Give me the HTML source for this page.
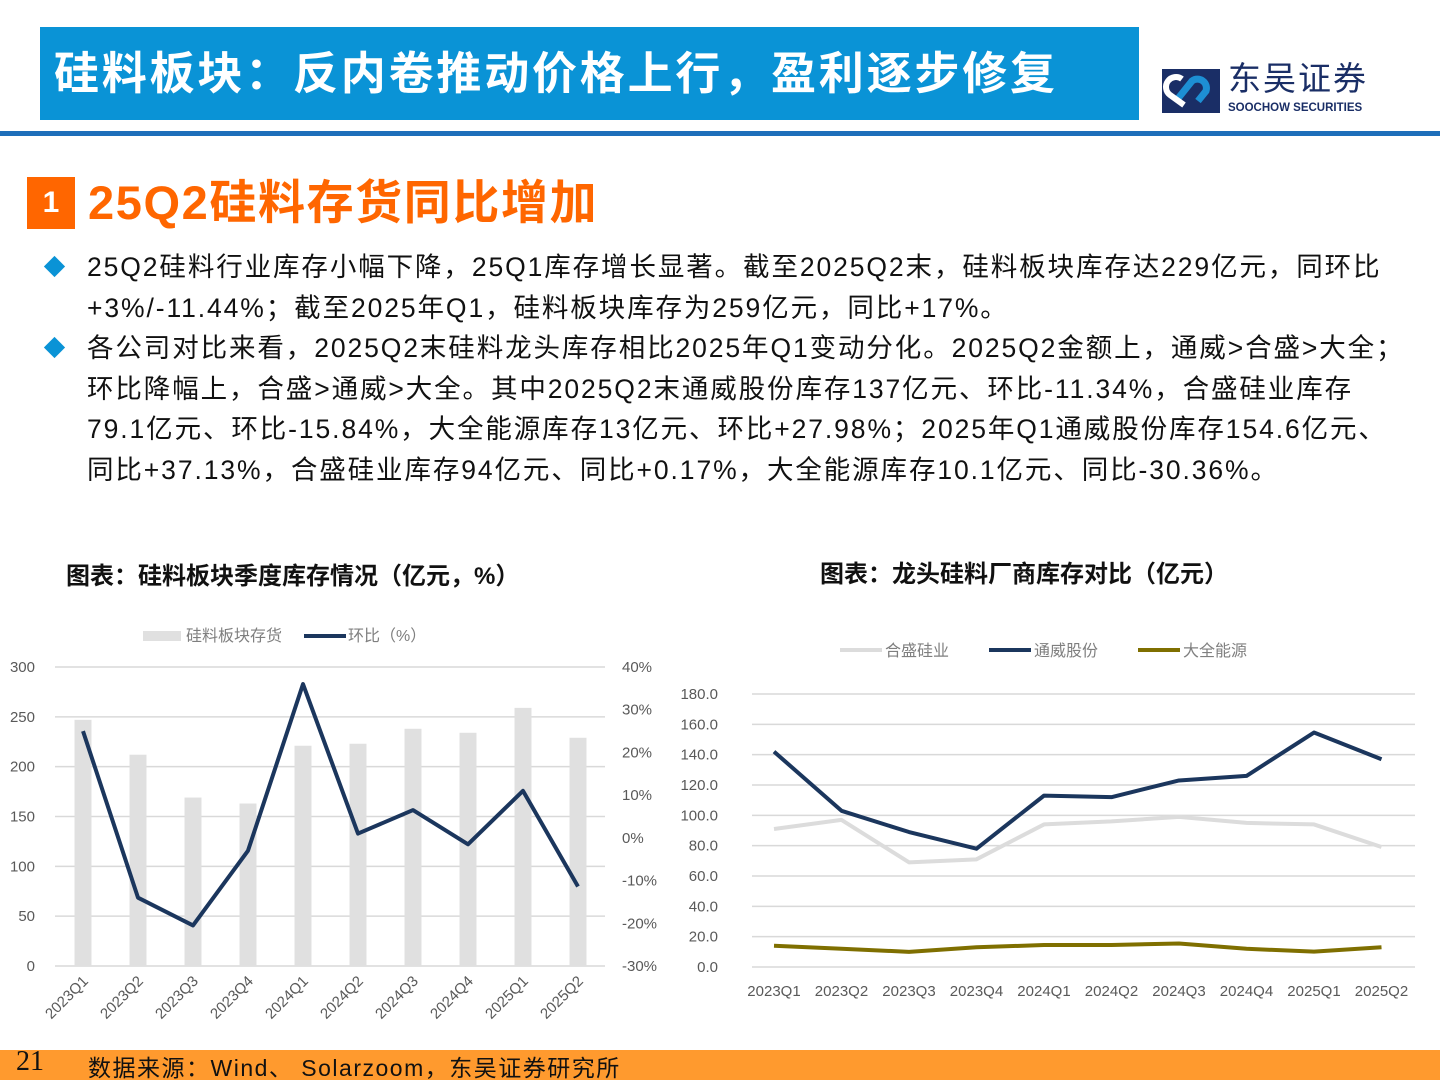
<!DOCTYPE html>
<html><head><meta charset="utf-8">
<style>
body{margin:0;width:1440px;height:1080px;position:relative;background:#fff;font-family:"Liberation Sans","Noto Sans CJK SC",sans-serif;overflow:hidden}
.abs{position:absolute}
.banner{left:40px;top:27px;width:1099px;height:93px;background:#0a93d6;color:#fff;font-size:45px;font-weight:bold;line-height:93px;padding-left:14px;box-sizing:border-box;letter-spacing:2.8px;white-space:nowrap}
.rule{left:0;top:131px;width:1440px;height:5px;background:#1e6fba}
.sq{left:27px;top:177px;width:48px;height:52px;background:#ff6600;color:#fff;font-size:30px;font-weight:bold;text-align:center;line-height:52px}
.title{left:88px;top:170px;font-size:47px;font-weight:bold;color:#ff6600;line-height:66px;letter-spacing:1.6px;white-space:nowrap}
.bul{left:87px;font-size:26.5px;color:#111;line-height:40.5px;white-space:nowrap;letter-spacing:1.9px}
.dia{width:15px;height:15px;background:#0a93d6;transform:rotate(45deg)}
.ct{font-size:24px;font-weight:bold;color:#111}
.foot{left:0;top:1050px;width:1440px;height:30px;background:#ff9a2e}
</style></head><body>
<div class="abs banner">硅料板块：反内卷推动价格上行，盈利逐步修复</div>
<div class="abs" style="left:1162px;top:69px">
<svg width="58" height="44" viewBox="0 0 58 44"><rect x="0" y="0" width="58" height="44" fill="#1a2e66"/><path d="M14 32 L30 12 A9 9 0 0 1 44 22 L36 32" stroke="#1d8fd4" stroke-width="7" fill="none"/><path d="M22 36 L8 26 A8 8 0 0 1 20 10" stroke="#fff" stroke-width="6" fill="none"/></svg>
<div class="abs" style="left:66px;top:-10px;font-size:33px;color:#1a2e66;white-space:nowrap;letter-spacing:2px;line-height:40px">东吴证券</div>
<div class="abs" style="left:66px;top:32px;font-size:11.5px;font-weight:bold;color:#1a2e66;white-space:nowrap;line-height:14px">SOOCHOW SECURITIES</div>
</div>
<div class="abs rule"></div>
<div class="abs sq">1</div>
<div class="abs title">25Q2硅料存货同比增加</div>
<div class="abs dia" style="left:47px;top:259px"></div>
<div class="abs bul" style="top:247px">25Q2硅料行业库存小幅下降，25Q1库存增长显著。截至2025Q2末，硅料板块库存达229亿元，同环比<br>+3%/-11.44%；截至2025年Q1，硅料板块库存为259亿元，同比+17%。</div>
<div class="abs dia" style="left:47px;top:340px"></div>
<div class="abs bul" style="top:328px">各公司对比来看，2025Q2末硅料龙头库存相比2025年Q1变动分化。2025Q2金额上，通威>合盛>大全；<br>环比降幅上，合盛>通威>大全。其中2025Q2末通威股份库存137亿元、环比-11.34%，合盛硅业库存<br>79.1亿元、环比-15.84%，大全能源库存13亿元、环比+27.98%；2025年Q1通威股份库存154.6亿元、<br>同比+37.13%，合盛硅业库存94亿元、同比+0.17%，大全能源库存10.1亿元、同比-30.36%。</div>
<div class="abs ct" style="left:66px;top:556px">图表：硅料板块季度库存情况（亿元，%）</div>
<div class="abs ct" style="left:820px;top:554px">图表：龙头硅料厂商库存对比（亿元）</div>
<svg class="abs" style="left:0;top:0" width="1440" height="1080" id="charts" font-family="Liberation Sans, Noto Sans CJK SC, sans-serif"></svg>
<div class="abs foot"></div>
<div class="abs" style="left:16px;top:1046px;font-size:28px;font-family:'Liberation Serif',serif;color:#111">21</div>
<div class="abs" style="left:88px;top:1049px;font-size:23px;color:#111;letter-spacing:1.5px;white-space:nowrap">数据来源：Wind、 Solarzoom，东吴证券研究所</div>
<script>
const cats=["2023Q1","2023Q2","2023Q3","2023Q4","2024Q1","2024Q2","2024Q3","2024Q4","2025Q1","2025Q2"];
const inventory=[247,212,169,163,221,223,238,234,259,229];
const qoq=[25,-14,-20.5,-3,36,1,6.5,-1.5,11,-11.4];
const leftTicks=[0,50,100,150,200,250,300];
const rightTicks=[-30,-20,-10,0,10,20,30,40];
const hesheng=[91,97,69,71,94,96,99,95,94,79.1];
const tongwei=[142,103,89,78,113,112,123,126,154.6,137];
const daquan=[14,12,10,13,14.5,14.5,15.5,12,10.1,13];
const rTicks=[0,20,40,60,80,100,120,140,160,180];
const NS="http://www.w3.org/2000/svg";
const svg=document.getElementById('charts');
function mk(t,a,p){const e=document.createElementNS(NS,t);for(const k in a)e.setAttribute(k,a[k]);(p||svg).appendChild(e);return e;}
// left chart
const lx=i=>83+i*55, ly=v=>966-v/300*299, ry=v=>966-(v+30)/70*299;
leftTicks.forEach(t=>{const l=mk('line',{x1:55,x2:605,y1:ly(t),y2:ly(t),stroke:'#d9d9d9','stroke-width':1.5});

const tx=mk('text',{x:35,y:ly(t)+5,'text-anchor':'end','font-size':15,fill:'#595959'});tx.textContent=t;
});
rightTicks.forEach(t=>{const tx=mk('text',{x:622,y:ry(t)+5,'font-size':15,fill:'#595959'});tx.textContent=t+'%';
});
inventory.forEach((v,i)=>{const b=mk('rect',{x:lx(i)-8.5,y:ly(v),width:17,height:ly(0)-ly(v),fill:'#e0e0e0'});

const tx=mk('text',{'font-size':15,fill:'#595959','text-anchor':'end',transform:`translate(${lx(i)+6},${982}) rotate(-45)`});tx.textContent=cats[i];
});
const ql=mk('polyline',{points:qoq.map((v,i)=>lx(i)+','+ry(v)).join(' '),fill:'none',stroke:'#1b365d','stroke-width':4,'stroke-linejoin':'round'});

const lg1=mk('rect',{x:143,y:631,width:38,height:10,fill:'#e0e0e0'});
let t1=mk('text',{x:186,y:641,'font-size':16,fill:'#7f7f7f'});t1.textContent='硅料板块存货';
const lg2=mk('line',{x1:304,x2:346,y1:636,y2:636,stroke:'#1b365d','stroke-width':4});
let t2=mk('text',{x:348,y:641,'font-size':16,fill:'#7f7f7f'});t2.textContent='环比（%）';
// right chart
const rx=i=>774+i*67.5, rY=v=>967-v/180*273;
rTicks.forEach(t=>{const l=mk('line',{x1:752,x2:1415,y1:rY(t),y2:rY(t),stroke:'#d9d9d9','stroke-width':1.5});

const tx=mk('text',{x:718,y:rY(t)+5,'text-anchor':'end','font-size':15,fill:'#595959'});tx.textContent=t.toFixed(1);
});
cats.forEach((c,i)=>{const tx=mk('text',{x:rx(i),y:996,'text-anchor':'middle','font-size':15,fill:'#595959'});tx.textContent=c;
});
[[hesheng,'#dcdcdc','hesheng-line'],[tongwei,'#1b365d','tongwei-line'],[daquan,'#7f6f00','daquan-line']].forEach(([d,c,n])=>{
const p=mk('polyline',{points:d.map((v,i)=>rx(i)+','+rY(v)).join(' '),fill:'none',stroke:c,'stroke-width':4,'stroke-linejoin':'round'});
});
[['合盛硅业','#dcdcdc',840],['通威股份','#1b365d',989],['大全能源','#7f6f00',1138]].forEach(([n,c,x])=>{
const l=mk('line',{x1:x,x2:x+42,y1:650,y2:650,stroke:c,'stroke-width':4});
const tx=mk('text',{x:x+45,y:656,'font-size':16,fill:'#7f7f7f'});tx.textContent=n;});
</script>
</body></html>
